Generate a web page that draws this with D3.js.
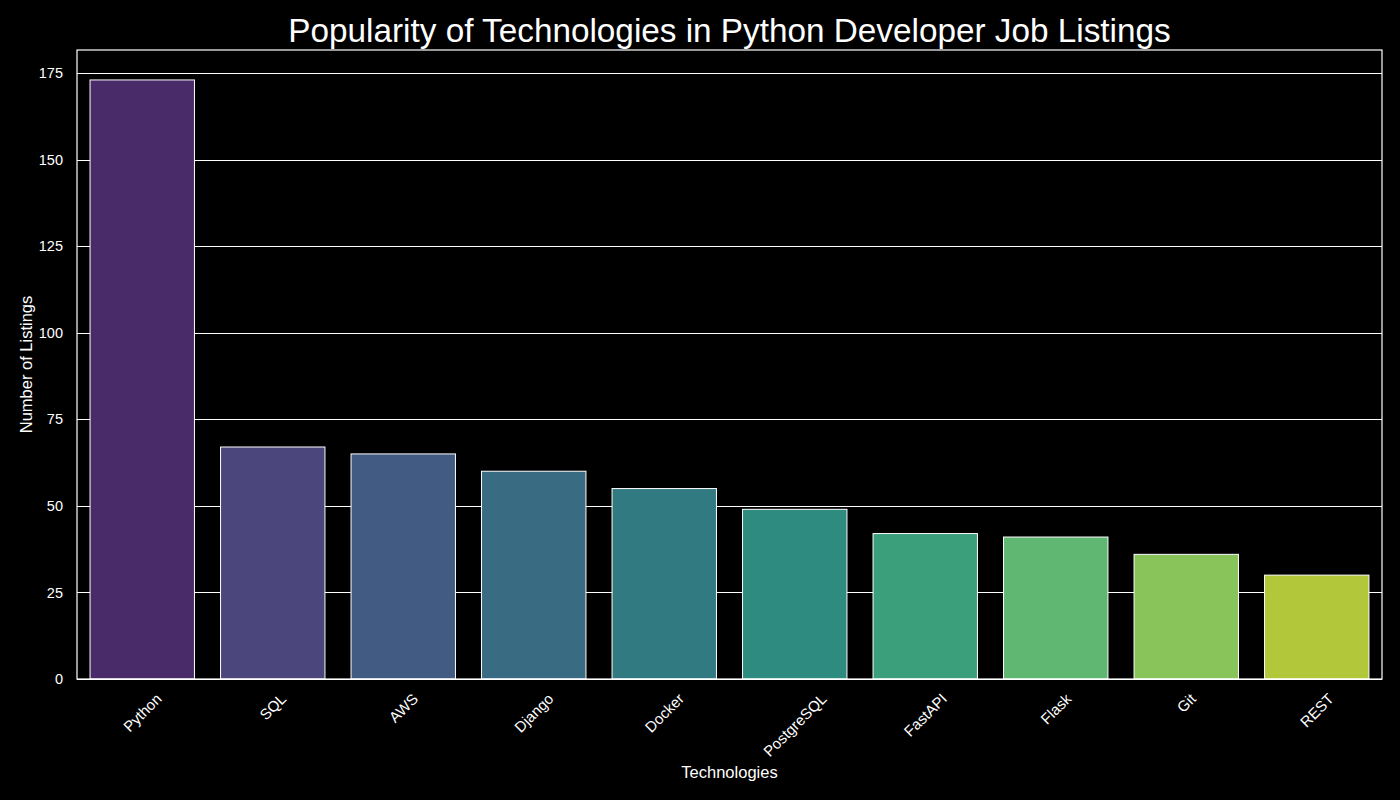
<!DOCTYPE html>
<html>
<head>
<meta charset="utf-8">
<script src="https://cdn.jsdelivr.net/npm/d3@7"></script>
<style>
  body { margin: 0; background: #000; }
  svg text { font-family: "Liberation Sans", Arial, sans-serif; fill: #fff; }
</style>
</head>
<body>
<svg id="chart" width="1400" height="800"></svg>
<script>
const technologies = ["Python", "SQL", "AWS", "Django", "Docker", "PostgreSQL", "FastAPI", "Flask", "Git", "REST"];
const listings = [173, 67, 65, 60, 55, 49, 42, 41, 36, 30];
const yTicks = [0, 25, 50, 75, 100, 125, 150, 175];

const svg = d3.select("#chart");
const margin = { top: 50, right: 18, bottom: 121, left: 77 };
const width = 1400 - margin.left - margin.right;
const height = 800 - margin.top - margin.bottom;

// seaborn-like viridis palette, desaturated to 0.75
const palette = technologies.map((d, i) => {
    const c = d3.hsl(d3.interpolateViridis((i + 1) / (technologies.length + 1)));
    c.s *= 0.75;
    return c.formatHex();
});

const x = d3.scaleBand()
    .domain(technologies)
    .range([0, width])
    .paddingInner(0.2)
    .paddingOuter(0.1);

const y = d3.scaleLinear()
    .domain([0, d3.max(listings) * 1.05])
    .range([height, 0]);

const g = svg.append("g").attr("transform", `translate(${margin.left},${margin.top})`);

// grid
g.append("g")
    .selectAll("line")
    .data(yTicks)
    .enter()
    .append("line")
    .attr("x1", 0)
    .attr("x2", width)
    .attr("y1", d => Math.round(y(d)) + 0.5)
    .attr("y2", d => Math.round(y(d)) + 0.5)
    .attr("stroke", "#fff")
    .attr("stroke-width", 1.1);

// bars
g.append("g")
    .selectAll("rect")
    .data(listings)
    .enter()
    .append("rect")
    .attr("x", (d, i) => x(technologies[i]))
    .attr("y", d => y(d))
    .attr("width", x.bandwidth())
    .attr("height", d => height - y(d))
    .attr("fill", (d, i) => palette[i])
    .attr("stroke", "#fff")
    .attr("stroke-width", 1);

// frame
g.append("rect")
    .attr("x", 0)
    .attr("y", 0)
    .attr("width", width)
    .attr("height", height)
    .attr("fill", "none")
    .attr("stroke", "#fff")
    .attr("stroke-width", 1.2);

// y axis
const yAxis = g.append("g")
    .call(d3.axisLeft(y).tickValues(yTicks).tickSize(0).tickPadding(14));
yAxis.select(".domain").remove();
yAxis.selectAll("text")
    .attr("font-size", "14.5px")
    .attr("fill", "#fff");

// x axis with 45 degree labels
const xAxis = g.append("g")
    .attr("transform", `translate(0,${height})`)
    .call(d3.axisBottom(x).tickSize(0).tickPadding(0));
xAxis.select(".domain").remove();
xAxis.selectAll("text")
    .attr("font-size", "15px")
    .attr("fill", "#fff")
    .attr("text-anchor", "middle")
    .attr("dy", null)
    .attr("dominant-baseline", "central")
    .attr("y", null)
    .attr("transform", function() {
        const w = this.getComputedTextLength();
        const off = 12 + (w + 14) * Math.SQRT1_2 / 2;
        return `translate(0,${off}) rotate(-45)`;
    });

// title and labels
svg.append("text")
    .attr("x", margin.left + width / 2)
    .attr("y", 42)
    .attr("text-anchor", "middle")
    .attr("font-size", "33.3px")
    .text("Popularity of Technologies in Python Developer Job Listings");

svg.append("text")
    .attr("x", margin.left + width / 2)
    .attr("y", 778)
    .attr("text-anchor", "middle")
    .attr("font-size", "16.5px")
    .text("Technologies");

svg.append("text")
    .attr("transform", `translate(31.5,${margin.top + height / 2}) rotate(-90)`)
    .attr("text-anchor", "middle")
    .attr("font-size", "16.5px")
    .text("Number of Listings");
</script>
</body>
</html>
